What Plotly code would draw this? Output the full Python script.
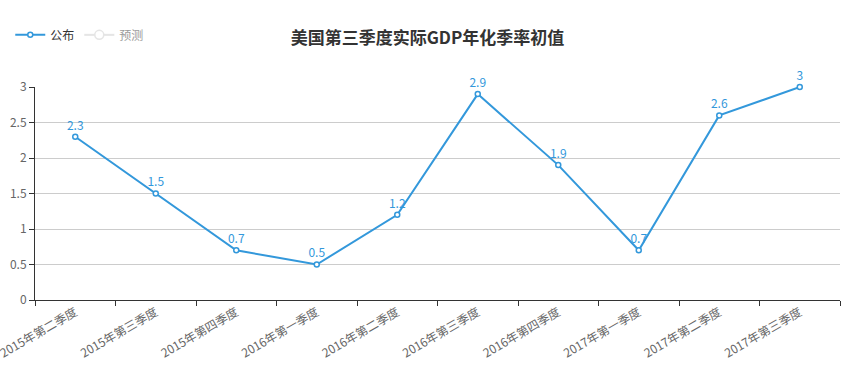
import plotly.graph_objects as go

categories = ["2015年第二季度", "2015年第三季度", "2015年第四季度", "2016年第一季度",
              "2016年第二季度", "2016年第三季度", "2016年第四季度", "2017年第一季度",
              "2017年第二季度", "2017年第三季度"]
published = [2.3, 1.5, 0.7, 0.5, 1.2, 2.9, 1.9, 0.7, 2.6, 3]
forecast = [None] * len(categories)
title_text = "美国第三季度实际GDP年化季率初值"

blue = "#3398DB"
font_family = "Noto Sans CJK SC, Microsoft YaHei, sans-serif"

fig = go.Figure()
fig.add_trace(go.Scatter(
    x=categories, y=published, name="公布", mode="lines+markers+text",
    line=dict(color=blue, width=2),
    marker=dict(symbol="circle", size=5, color="white", line=dict(color=blue, width=1.5)),
    text=[str(v) for v in published], textposition="top center",
    textfont=dict(color=blue, size=12, family=font_family),
    cliponaxis=False,
))
fig.add_trace(go.Scatter(
    x=categories, y=forecast, name="预测", mode="lines+markers",
    line=dict(color="#cccccc", width=2),
    marker=dict(symbol="circle", size=9, color="white", line=dict(color="#cccccc", width=1.5)),
    visible="legendonly",
))

fig.update_layout(
    width=855, height=367,
    margin=dict(l=35, r=15, t=87, b=67),
    paper_bgcolor="white", plot_bgcolor="white",
    font=dict(family=font_family, size=12, color="#666"),
    title=dict(text="<b>" + title_text + "</b>", x=0.5, xanchor="center", y=0.895, yanchor="middle",
               font=dict(size=17, color="#333", family=font_family)),
    legend=dict(orientation="h", xref="container", yref="container", x=0.012, y=0.905,
                xanchor="left", yanchor="middle",
                itemwidth=30, font=dict(size=12, color="#333"), itemclick=False, itemdoubleclick=False),
    showlegend=True,
    xaxis=dict(
        type="category", tickson="boundaries", ticks="outside", ticklen=5, tickcolor="#333",
        showline=True, linecolor="#333", linewidth=1, showgrid=False,
        tickangle=-30, tickfont=dict(size=12, color="#666"),
        range=[-0.5, len(categories) - 0.5], automargin=False,
    ),
    yaxis=dict(
        range=[0, 3], dtick=0.5, ticks="outside", ticklen=5, tickcolor="#333",
        showline=True, linecolor="#333", linewidth=1,
        showgrid=True, gridcolor="#cccccc", gridwidth=1, zeroline=False,
        tickfont=dict(size=12, color="#666"), automargin=False,
    ),
)

fig.write_html("out.html", config={"displayModeBar": False},
               post_script="document.body.style.margin='0';")
